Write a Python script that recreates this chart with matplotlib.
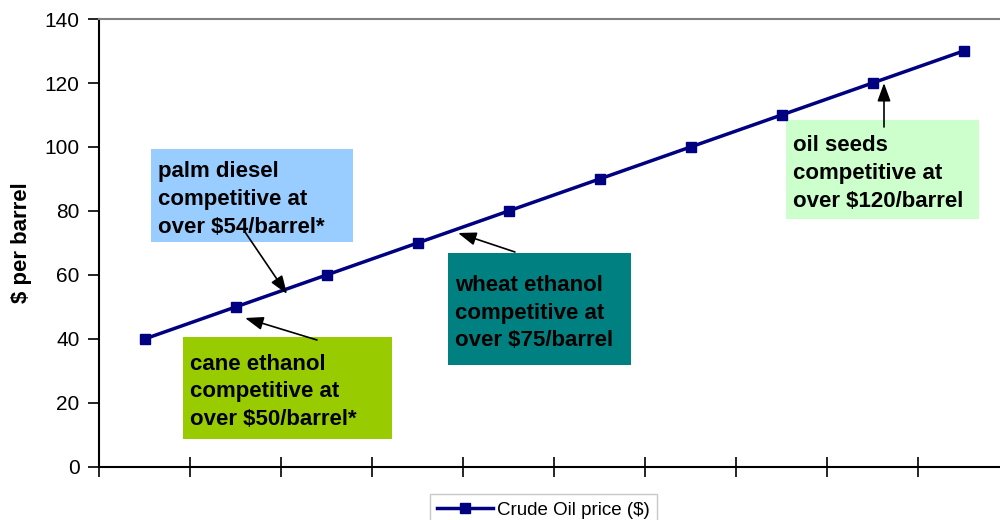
import matplotlib
matplotlib.use("Agg")
import matplotlib.pyplot as plt
from matplotlib.patches import Rectangle

plt.rcParams['font.family'] = ['Liberation Sans', 'DejaVu Sans']

# crude oil price scenarios (one per category)
categories = list(range(10))
price_per_barrel = [40, 50, 60, 70, 80, 90, 100, 110, 120, 130]
series_label = 'Crude Oil price ($)'

# annotation texts and colours
notes = [
    'palm diesel\ncompetitive at\nover $54/barrel*',
    'cane ethanol\ncompetitive at\nover $50/barrel*',
    'wheat ethanol\ncompetitive at\nover $75/barrel',
    'oil seeds\ncompetitive at\nover $120/barrel',
]
note_colors = ['#99CCFF', '#99CC00', '#008080', '#CCFFCC']


def px_to_data(px, py):
    # pixel position in the 1000x520 picture -> data coordinates
    return (px - 99) / 91.0 - 0.5, (467 - py) * 140.0 / 448.0


def main():
    fig = plt.figure(figsize=(10, 5.2), dpi=100)
    ax = fig.add_axes([0.099, 53 / 520, 0.91, 448 / 520])

    ax.plot(categories, price_per_barrel, color='#000080', lw=2.5,
            marker='s', ms=7, mfc='#000080', mec='#000080', label=series_label)

    ax.set_xlim(-0.5, 9.5)
    ax.set_ylim(0, 140)
    ax.set_yticks(range(0, 141, 20))
    ax.set_xticks([c - 0.5 for c in categories] + [9.5])
    ax.set_xticklabels([])
    ax.tick_params(axis='y', direction='out', length=8, width=1.2, labelsize=15, pad=6)
    ax.tick_params(axis='x', direction='inout', length=15, width=1.2)

    ax.spines['top'].set_color('#808080')
    ax.spines['top'].set_linewidth(1.5)
    ax.spines['right'].set_visible(False)
    for s in ('left', 'bottom'):
        ax.spines[s].set_color('black')
        ax.spines[s].set_linewidth(1.5)

    ax.set_ylabel('$ per barrel', fontsize=16, fontweight='bold', labelpad=9)

    # boxes (pixel extents in the picture) and arrows (tail, head)
    boxes = [(151, 149, 353, 242), (183, 337, 392, 439),
             (448, 253, 631, 365), (786, 120, 979, 219)]
    arrows = [((245, 232), (287, 294)), ((317, 340), (245, 318)),
              ((515, 252), (458, 233)), ((884, 127), (884, 83))]

    for text, color, box, arr in zip(notes, note_colors, boxes, arrows):
        x0, y0 = px_to_data(box[0], box[3])
        x1, y1 = px_to_data(box[2], box[1])
        ax.add_patch(Rectangle((x0, y0), x1 - x0, y1 - y0, fc=color, ec='none', zorder=1))
        tx, ty = px_to_data(box[0] + 7, (box[1] + box[3]) / 2 + 4)
        ax.text(tx, ty, text, ha='left', va='center', fontsize=16,
                fontweight='bold', color='black', linespacing=1.42, zorder=2)
        tail = px_to_data(*arr[0])
        head = px_to_data(*arr[1])
        ax.annotate('', xy=head, xytext=tail,
                    arrowprops=dict(arrowstyle='-|>,head_width=0.4,head_length=1.1',
                                    color='black', lw=1.2, shrinkA=0, shrinkB=0),
                    zorder=4)

    leg = fig.legend(loc='upper center', bbox_to_anchor=(0.5435, 1 - 485 / 520),
                     fontsize=13.5, frameon=True, fancybox=False, handlelength=3.0,
                     borderpad=0.4, handletextpad=0.2)
    leg.get_frame().set_edgecolor('#BBBBBB')
    leg.get_frame().set_linewidth(1.0)

    fig.savefig('out.png', dpi=100)


if __name__ == '__main__':
    main()
